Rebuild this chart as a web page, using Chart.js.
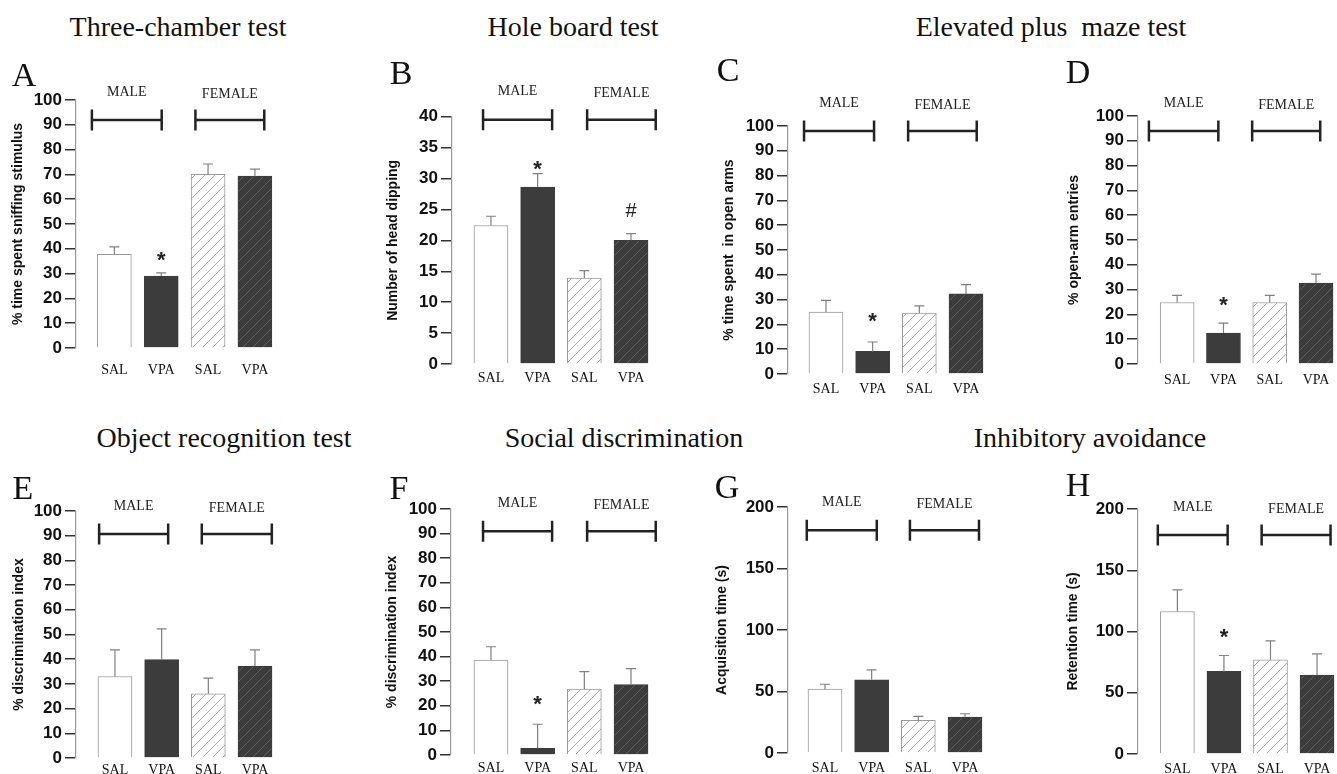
<!DOCTYPE html>
<html>
<head>
<meta charset="utf-8">
<script src="https://cdn.jsdelivr.net/npm/chart.js@4.4.1/dist/chart.umd.min.js"></script>
<style>
html, body { margin: 0; padding: 0; background: #fff; overflow: hidden; }
#fig { position: relative; width: 1337px; height: 774px; }
#fig canvas { position: absolute; }
.t { position: absolute; font-family: "Liberation Serif", "Times New Roman", serif; color: #111;
     white-space: pre; transform: translate(-50%, -50%); line-height: normal; }
.title { font-size: 28px; }
.letter { font-size: 34px; }
</style>
</head>
<body>
<div id="fig"></div>
<script>
// x tick labels and group labels
const categories = ["SAL", "VPA", "SAL", "VPA"];
const groups = ["MALE", "FEMALE"];

// means and upper SEM for each test (male SAL, male VPA, female SAL, female VPA)
const threeChamber = [37.8, 29.0, 70.0, 69.3];
const threeChamberSem = [3.0, 1.3, 4.2, 2.8];
const holeBoard = [22.4, 28.6, 13.9, 20.0];
const holeBoardSem = [1.5, 2.2, 1.2, 1.1];
const openArmTime = [25.0, 9.1, 24.6, 32.3];
const openArmTimeSem = [4.7, 3.8, 2.9, 3.7];
const openArmEntries = [24.8, 12.5, 24.8, 32.6];
const openArmEntriesSem = [2.9, 4.0, 2.9, 3.6];
const objectRecognition = [33.0, 39.8, 26.0, 37.2];
const objectRecognitionSem = [10.8, 12.5, 6.3, 6.6];
const socialDiscrimination = [38.6, 2.7, 26.8, 28.6];
const socialDiscriminationSem = [5.4, 9.8, 7.1, 6.5];
const acquisitionTime = [51.9, 59.5, 26.5, 29.2];
const acquisitionTimeSem = [4.0, 8.1, 3.2, 2.7];
const retentionTime = [116.3, 67.4, 76.9, 64.4];
const retentionTimeSem = [17.7, 13.0, 15.5, 17.4];

// y axis ranges per panel
const yMaxes = [100, 40, 100, 100, 100, 100, 200, 200];
const ySteps = [10, 5, 10, 10, 10, 10, 50, 50];

const titles = [
  ["Three-chamber test", 178, 27], ["Hole board test", 573, 27], ["Elevated plus  maze test", 1051, 27],
  ["Object recognition test", 224, 438], ["Social discrimination", 624, 438], ["Inhibitory avoidance", 1090, 438]
];

// layout of each panel (page pixels) + annotations
const panels = [
  { letter: "A", lx: 24, ly: 75, values: threeChamber, sem: threeChamberSem, yTitle: "% time spent sniffing stimulus",
    left: 0, top: 40, axisX: 76, yTop: 100, yZero: 348, first: 114.5, step: 47, titleX: 18, labelGap: 22,
    brackets: [[-0.48, 1.01], [1.73, 3.20]], bracketY: 91.9, marks: [{ bar: 1, y: 37.9, text: "*" }] },
  { letter: "B", lx: 401, ly: 73, values: holeBoard, sem: holeBoardSem, yTitle: "Number of head dipping",
    left: 370, top: 40, axisX: 452, yTop: 116.7, yZero: 364, first: 491, step: 46.7, titleX: 393, labelGap: 14,
    brackets: [[-0.17, 1.31], [2.06, 3.53]], bracketY: 39.5,
    marks: [{ bar: 1, y: 32.5, text: "*" }, { bar: 3, y: 24.9, text: "#" }] },
  { letter: "C", lx: 728, ly: 70, values: openArmTime, sem: openArmTimeSem, yTitle: "% time spent  in open arms",
    left: 700, top: 40, axisX: 788, yTop: 126, yZero: 374, first: 826, step: 46.7, titleX: 729, labelGap: 15,
    brackets: [[-0.47, 1.03], [1.76, 3.23]], bracketY: 98.0, marks: [{ bar: 1, y: 23.4, text: "*" }] },
  { letter: "D", lx: 1078, ly: 72, values: openArmEntries, sem: openArmEntriesSem, yTitle: "% open-arm entries",
    left: 1050, top: 40, axisX: 1138, yTop: 116, yZero: 364, first: 1177.5, step: 46.7, titleX: 1074, labelGap: 16,
    brackets: [[-0.61, 0.89], [1.62, 3.09]], bracketY: 94.0, marks: [{ bar: 1, y: 26.2, text: "*" }] },
  { letter: "E", lx: 23, ly: 488, values: objectRecognition, sem: objectRecognitionSem, yTitle: "% discrimination index",
    left: 0, top: 450, axisX: 76, yTop: 511, yZero: 758, first: 115, step: 46.7, titleX: 19, labelGap: 12,
    brackets: [[-0.34, 1.14], [1.86, 3.36]], bracketY: 90.7, marks: [] },
  { letter: "F", lx: 399, ly: 488, values: socialDiscrimination, sem: socialDiscriminationSem, yTitle: "% discrimination index",
    left: 370, top: 450, axisX: 451, yTop: 509, yZero: 755, first: 491, step: 46.7, titleX: 392, labelGap: 13,
    brackets: [[-0.17, 1.31], [2.06, 3.53]], bracketY: 91, marks: [{ bar: 1, y: 22.8, text: "*" }] },
  { letter: "G", lx: 727, ly: 487, values: acquisitionTime, sem: acquisitionTimeSem, yTitle: "Acquisition time (s)",
    left: 700, top: 450, axisX: 788, yTop: 507, yZero: 753, first: 825, step: 46.7, titleX: 722, labelGap: 15,
    brackets: [[-0.39, 1.11], [1.82, 3.30]], bracketY: 181, marks: [] },
  { letter: "H", lx: 1078, ly: 485, values: retentionTime, sem: retentionTimeSem, yTitle: "Retention time (s)",
    left: 1050, top: 450, axisX: 1138, yTop: 509, yZero: 754, first: 1177.5, step: 46.7, titleX: 1073, labelGap: 15,
    brackets: [[-0.42, 1.08], [1.81, 3.29]], bracketY: 178.8, marks: [{ bar: 1, y: 99.6, text: "*" }] }
];

const SERIF = '"Liberation Serif", "Times New Roman", serif';
const SANS = '"Liberation Sans", Arial, sans-serif';
const DARK = "#3c3c3c";
Chart.defaults.font.family = SANS;

const fig = document.getElementById("fig");

function hatch(ctx, bg, fg) {
  const c = document.createElement("canvas");
  c.width = c.height = 10;
  const g = c.getContext("2d");
  g.fillStyle = bg;
  g.fillRect(0, 0, 10, 10);
  g.strokeStyle = fg;
  g.lineWidth = 1;
  g.beginPath();
  g.moveTo(0, 10); g.lineTo(10, 0);
  g.moveTo(-1, 1); g.lineTo(1, -1);
  g.moveTo(9, 11); g.lineTo(11, 9);
  g.stroke();
  return ctx.createPattern(c, "repeat");
}

// error bars, group brackets, labels and significance marks
function decor(p) {
  return {
    id: "decor" + p.letter,
    afterDatasetsDraw(chart) {
      const ctx = chart.ctx, xs = chart.scales.x, ys = chart.scales.y;
      const bars = chart.getDatasetMeta(0).data;
      ctx.save();
      ctx.strokeStyle = "#808080";
      ctx.lineWidth = 1.2;
      p.values.forEach((v, i) => {
        const x = bars[i].x;
        const y0 = ys.getPixelForValue(v), y1 = ys.getPixelForValue(v + p.sem[i]);
        ctx.beginPath();
        ctx.moveTo(x, y0); ctx.lineTo(x, y1);
        ctx.moveTo(x - 5, y1); ctx.lineTo(x + 5, y1);
        ctx.stroke();
      });
      const by = ys.getPixelForValue(p.bracketY);
      ctx.strokeStyle = "#222";
      ctx.lineWidth = 2.5;
      ctx.fillStyle = "#222";
      ctx.font = "14px " + SERIF;
      ctx.textAlign = "center";
      ctx.textBaseline = "middle";
      p.brackets.forEach((b, k) => {
        const xa = xs.getPixelForValue(b[0]), xb = xs.getPixelForValue(b[1]);
        ctx.beginPath();
        ctx.moveTo(xa, by); ctx.lineTo(xb, by);
        ctx.moveTo(xa, by - 10.5); ctx.lineTo(xa, by + 10.5);
        ctx.moveTo(xb, by - 10.5); ctx.lineTo(xb, by + 10.5);
        ctx.stroke();
        ctx.fillText(groups[k], (xa + xb) / 2, by - (k === 0 ? 28 : 26));
      });
      ctx.textBaseline = "alphabetic";
      p.marks.forEach(m => {
        const x = bars[m.bar].x, y = ys.getPixelForValue(m.y);
        if (m.text === "*") {
          ctx.font = "bold 22px " + SANS;
          ctx.fillText("*", x, y + 12.5);
        } else {
          ctx.font = "20px " + SANS;
          ctx.fillText(m.text, x, y + 7.2);
        }
      });
      ctx.restore();
    }
  };
}

titles.forEach(([text, x, y]) => {
  const d = document.createElement("div");
  d.className = "t title";
  d.textContent = text;
  d.style.left = x + "px";
  d.style.top = y + "px";
  fig.appendChild(d);
});

panels.forEach((p, n) => {
  const chartRight = Math.min(p.first + 3.45 * p.step, 1337);
  const right = Math.min(chartRight + 16, 1337);
  const width = right - p.left;
  const height = p.yZero + 30 - p.top;
  const canvas = document.createElement("canvas");
  canvas.width = width;
  canvas.height = height;
  canvas.style.left = p.left + "px";
  canvas.style.top = p.top + "px";
  fig.appendChild(canvas);
  const ctx = canvas.getContext("2d");

  new Chart(ctx, {
    type: "bar",
    data: {
      datasets: [{
        data: p.values.map((v, i) => ({ x: i, y: v })),
        backgroundColor: ["#ffffff", DARK, hatch(ctx, "#ffffff", "#a8a8a8"), hatch(ctx, DARK, "#5e5e5e")],
        borderColor: ["#9a9a9a", DARK, "#9a9a9a", DARK],
        borderWidth: 1,
        barThickness: 34
      }]
    },
    options: {
      responsive: false,
      animation: false,
      devicePixelRatio: 1,
      layout: { padding: { left: 0, top: p.yTop - p.top, right: right - chartRight, bottom: 0 } },
      plugins: { legend: { display: false }, tooltip: { enabled: false } },
      scales: {
        x: {
          type: "linear",
          offset: false,
          bounds: "data",
          min: -(p.first - p.axisX) / p.step,
          max: (chartRight - p.first) / p.step,
          afterBuildTicks: s => { s.ticks = [0, 1, 2, 3].map(v => ({ value: v })); },
          afterFit: s => { s.height = 30; },
          grid: { display: false, drawTicks: false, offset: false },
          border: { display: false },
          ticks: {
            autoSkip: false, maxRotation: 0, padding: p.labelGap - 8.4,
            color: "#111", font: { family: SERIF, size: 14 },
            callback: v => categories[v] ?? ""
          }
        },
        y: {
          min: 0,
          max: yMaxes[n],
          afterFit: s => { s.width = p.axisX - p.left; },
          grid: { drawOnChartArea: false, tickLength: 11, color: "#333", lineWidth: 1.5 },
          border: { color: "#999", width: 1.2 },
          ticks: { stepSize: ySteps[n], padding: 3, color: "#111", font: { size: 17, weight: "bold" } },
          title: {
            display: true, text: p.yTitle, color: "#111",
            font: { size: 14, weight: "bold" },
            padding: { top: p.titleX - p.left - 8.4, bottom: 0 }
          }
        }
      }
    },
    plugins: [decor(p)]
  });

  const l = document.createElement("div");
  l.className = "t letter";
  l.textContent = p.letter;
  l.style.left = p.lx + "px";
  l.style.top = p.ly + "px";
  fig.appendChild(l);
});
</script>
</body>
</html>
